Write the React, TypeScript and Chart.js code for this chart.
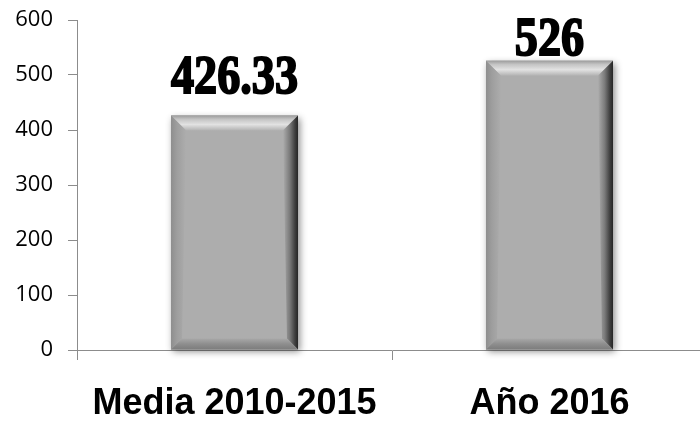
import React, { useEffect, useRef } from "react";
import { Chart, registerables } from "chart.js";

Chart.register(...registerables);

const categories = ["Media 2010-2015", "Año 2016"];
const values = [426.33, 526];
const valueLabels = ["426.33", "526"];
const yTicks = [0, 100, 200, 300, 400, 500, 600];

const AXIS_COLOR = "#8c8c8c";

const bevelPlugin = {
  id: "bevelBars",
  beforeDatasetsDraw(chart: any) {
    const ctx = chart.ctx;
    const meta = chart.getDatasetMeta(0);
    meta.data.forEach((bar: any) => {
      const w = bar.width;
      const left = bar.x - w / 2;
      const top = bar.y;
      const h = bar.base - bar.y;
      ctx.save();
      ctx.shadowColor = "rgba(0,0,0,0.45)";
      ctx.shadowBlur = 7;
      ctx.shadowOffsetX = 2;
      ctx.shadowOffsetY = 2;
      ctx.fillStyle = "#adadad";
      ctx.fillRect(left, top, w, h);
      ctx.restore();
    });
  },
  afterDatasetsDraw(chart: any) {
    const ctx = chart.ctx;
    const meta = chart.getDatasetMeta(0);
    meta.data.forEach((bar: any, i: number) => {
      const w = bar.width;
      const l = bar.x - w / 2;
      const r = bar.x + w / 2;
      const t = bar.y;
      const btm = bar.base;
      const b = 15;
      const bb = 11;
      ctx.save();
      // top bevel
      let g = ctx.createLinearGradient(0, t, 0, t + b);
      g.addColorStop(0, "#9c9c9c");
      g.addColorStop(0.25, "#c4c4c4");
      g.addColorStop(0.6, "#e2e2e2");
      g.addColorStop(1, "#b2b2b2");
      ctx.fillStyle = g;
      ctx.beginPath();
      ctx.moveTo(l, t);
      ctx.lineTo(r, t);
      ctx.lineTo(r - b, t + b);
      ctx.lineTo(l + b, t + b);
      ctx.closePath();
      ctx.fill();
      // left bevel
      g = ctx.createLinearGradient(l, 0, l + b, 0);
      g.addColorStop(0, "#8e8e8e");
      g.addColorStop(0.4, "#9e9e9e");
      g.addColorStop(1, "#adadad");
      ctx.fillStyle = g;
      ctx.beginPath();
      ctx.moveTo(l, t);
      ctx.lineTo(l + b, t + b);
      ctx.lineTo(l + bb, btm - bb);
      ctx.lineTo(l, btm);
      ctx.closePath();
      ctx.fill();
      // right bevel
      g = ctx.createLinearGradient(r - b, 0, r, 0);
      g.addColorStop(0, "#adadad");
      g.addColorStop(0.45, "#7a7a7a");
      g.addColorStop(0.8, "#3e3e3e");
      g.addColorStop(1, "#262626");
      ctx.fillStyle = g;
      ctx.beginPath();
      ctx.moveTo(r, t);
      ctx.lineTo(r, btm);
      ctx.lineTo(r - bb, btm - bb);
      ctx.lineTo(r - b, t + b);
      ctx.closePath();
      ctx.fill();
      // bottom bevel
      g = ctx.createLinearGradient(0, btm - bb, 0, btm);
      g.addColorStop(0, "#a8a8a8");
      g.addColorStop(0.5, "#8e8e8e");
      g.addColorStop(1, "#7c7c7c");
      ctx.fillStyle = g;
      ctx.beginPath();
      ctx.moveTo(l, btm);
      ctx.lineTo(l + bb, btm - bb);
      ctx.lineTo(r - bb, btm - bb);
      ctx.lineTo(r, btm);
      ctx.closePath();
      ctx.fill();
      ctx.restore();

      // value label
      const area = chart.chartArea;
      const baseline = Math.max(t - 23, area.top + 35);
      ctx.save();
      ctx.translate(bar.x, baseline);
      ctx.scale(0.84, 1);
      ctx.font = "bold 55px 'Liberation Serif'";
      ctx.textAlign = "center";
      ctx.textBaseline = "alphabetic";
      ctx.fillStyle = "#000";
      ctx.strokeStyle = "#000";
      ctx.lineWidth = 2;
      ctx.fillText(valueLabels[i], 0, 0);
      ctx.strokeText(valueLabels[i], 0, 0);
      ctx.restore();
    });
  },
};

export default function App() {
  const ref = useRef<HTMLCanvasElement | null>(null);
  useEffect(() => {
    if (!ref.current) return;
    const chart = new Chart(ref.current, {
      type: "bar",
      data: {
        labels: categories,
        datasets: [
          {
            data: values,
            backgroundColor: "#adadad",
            borderWidth: 0,
            barPercentage: 0.403,
            categoryPercentage: 1,
          },
        ],
      },
      options: {
        animation: false,
        responsive: false,
        maintainAspectRatio: false,
        layout: { padding: { top: 20, right: 5, left: 0, bottom: 0 } },
        plugins: {
          legend: { display: false },
          tooltip: { enabled: false },
        },
        scales: {
          x: {
            grid: {
              display: true,
              drawOnChartArea: false,
              drawTicks: true,
              tickLength: 10,
              color: AXIS_COLOR,
              offset: true,
            },
            border: { display: true, color: AXIS_COLOR, width: 1 },
            ticks: {
              color: "#000",
              font: { family: "'Liberation Sans', Arial, sans-serif", size: 36, weight: "bold" },
              padding: 22,
              maxRotation: 0,
              autoSkip: false,
            },
            afterFit(scale: any) {
              scale.height = 71;
              scale.paddingLeft = 0;
              scale.paddingRight = 0;
            },
          },
          y: {
            min: 0,
            max: 600,
            afterBuildTicks(scale: any) {
              scale.ticks = yTicks.map((v) => ({ value: v }));
            },
            grid: {
              display: true,
              drawOnChartArea: false,
              drawTicks: true,
              tickLength: 9,
              color: AXIS_COLOR,
            },
            border: { display: true, color: AXIS_COLOR, width: 1 },
            ticks: {
              color: "#000",
              font: { family: "'Open Sans', sans-serif", size: 22 },
              padding: 15,
            },
            afterFit(scale: any) {
              scale.width = 77;
              scale.paddingTop = 0;
              scale.paddingBottom = 0;
            },
          },
        },
      },
      plugins: [bevelPlugin],
    });
    return () => chart.destroy();
  }, []);
  return (
    <div
      style={{
        position: "absolute",
        left: 0,
        top: 0,
        width: 700,
        height: 421,
        overflow: "hidden",
        background: "#fff",
      }}
    >
      <canvas ref={ref} width={712} height={421} style={{ width: 712, height: 421 }} />
    </div>
  );
}
